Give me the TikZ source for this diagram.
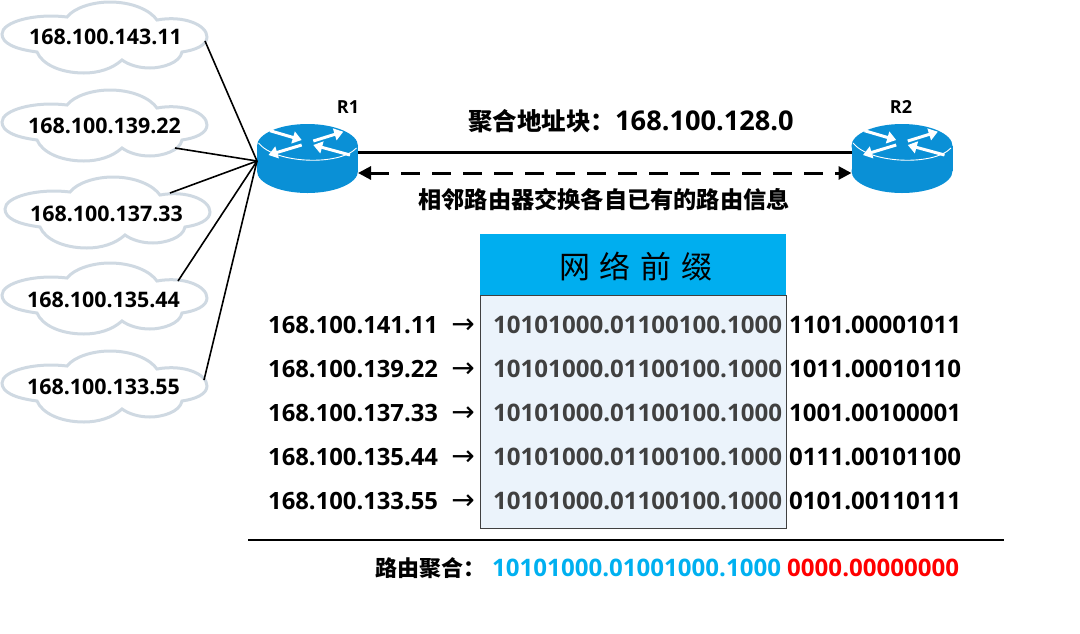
\documentclass[tikz,border=0pt]{standalone}
\usepackage{fontspec}
\usetikzlibrary{arrows.meta}
\setmainfont{Open Sans}
\newfontfamily\cjk{Noto Sans CJK SC}
\definecolor{cloudline}{HTML}{CFD9E2}
\definecolor{routerblue}{HTML}{0A90D6}
\definecolor{headblue}{HTML}{00AEEF}
\definecolor{tablefill}{HTML}{EBF3FB}
\definecolor{tableline}{HTML}{404040}
\definecolor{sumblue}{HTML}{00B0F0}
\tikzset{
  ipcloud/.style={font=\fontsize{21.4}{24}\selectfont\bfseries,inner sep=0pt},
  rowtext/.style={font=\fontsize{24.1}{28}\selectfont\bfseries,inner sep=0pt,anchor=base west},
  iptext/.style={font=\fontsize{23.8}{28}\selectfont\bfseries,inner sep=0pt,anchor=base west},
  rlabel/.style={font=\fontsize{18}{20}\selectfont\bfseries,inner sep=0pt},
  wire/.style={line width=1.6pt,black},
  rarrow/.style={line width=3pt,white,-{Triangle[width=12pt,length=9pt]}},
  pics/netcloud/.style={code={
    \draw[cloudline,line width=3pt,fill=white]
      (-67,15) .. controls (-90,12) and (-102,6) .. (-102,-3)
      .. controls (-102,-15) and (-70,-24) .. (-37,-20)
      .. controls (-30,-29) and (-12,-35) .. (6,-35)
      .. controls (28,-35) and (46,-27) .. (53,-17)
      .. controls (80,-22) and (103,-12) .. (103,0)
      .. controls (103,8) and (92,13) .. (78,15)
      .. controls (76,26) and (58,31) .. (46,31)
      .. controls (35,31) and (25,28) .. (18,23)
      .. controls (8,32) and (-6,36) .. (-20,36)
      .. controls (-44,36) and (-62,27) .. (-67,15) -- cycle;
  }},
  pics/router/.style={code={
    \fill[routerblue] (-50.5,0) rectangle (50.5,25);
    \fill[routerblue] (0,0) ellipse [x radius=50.5,y radius=22];
    \fill[routerblue] (0,25) ellipse [x radius=50.5,y radius=22];
    \draw[white,line width=.9pt] (-49,-3) .. controls (-32,18) and (32,20) .. (49,2);
    \draw[rarrow] (-37.5,-15.3) -- (-5.8,-6);
    \draw[rarrow] (-5.8,-1) -- (-39,9);
    \draw[rarrow] (5.8,-5) -- (35.8,-14.3);
    \draw[rarrow] (42.5,9) -- (5.8,-1);
    \coordinate (-west) at (-50.5,15);
    \coordinate (-solidw) at (-50.5,6);
    \coordinate (-solide) at (50.5,6);
    \coordinate (-dashw) at (-50.5,27);
    \coordinate (-dashe) at (50.5,27);
  }}
}
\begin{document}
\begin{tikzpicture}[x=1pt,y=-1pt]
\useasboundingbox (0,0) rectangle (1080,633);
% clouds
\pic at (104,37) {netcloud};
\pic at (104,125) {netcloud};
\pic at (107,212) {netcloud};
\pic at (104,298) {netcloud};
\pic at (104,386) {netcloud};
\node[ipcloud] (c1) at (105.5,37) {168.100.143.11};
\node[ipcloud] (c2) at (104.5,126) {168.100.139.22};
\node[ipcloud] (c3) at (106.5,214) {168.100.137.33};
\node[ipcloud] (c4) at (103.5,300) {168.100.135.44};
\node[ipcloud] (c5) at (103.5,387) {168.100.133.55};
% routers
\pic (r1) at (307.5,146) {router};
\pic (r2) at (902,146) {router};
\node[rlabel] (r1lab) at (348,107) {R1};
\node[rlabel] (r2lab) at (901,107) {R2};
% cloud links
\coordinate (e1) at (205,41);
\coordinate (e2) at (175,148);
\coordinate (e3) at (170,193);
\coordinate (e4) at (178,281);
\coordinate (e5) at (204,380);
\foreach \e in {e1,e2,e3,e4,e5} \draw[wire] (\e) -- (r1-west);
% backbone
\draw[line width=3pt] (r1-solide) -- (r2-solidw);
\draw[line width=3pt,dash pattern=on 19pt off 12pt,{Triangle[width=13pt,length=13pt]}-{Triangle[width=13pt,length=13pt]}] (r1-dashe) -- (r2-dashw);
\node[inner sep=0pt,anchor=base west] (title) at (468,130) {\fontsize{24.5}{28}\selectfont\bfseries{\cjk\bfseries 聚合地址块：}\fontsize{27.2}{28}\selectfont 168.100.128.0};
\node[inner sep=0pt] (sub) at (604,200) {\cjk\bfseries\fontsize{23.2}{28}\selectfont 相邻路由器交换各自已有的路由信息};
% table
\node[fill=headblue,minimum width=306pt,minimum height=61pt,inner sep=0pt,anchor=north west] (head) at (480,234) {};
\node[inner sep=0pt] (headtxt) at (636,267) {\cjk\fontsize{31}{34}\selectfont 网\hspace{10pt}络\hspace{10pt}前\hspace{10pt}缀};
\node[fill=tablefill,draw=tableline,line width=1pt,minimum width=306pt,minimum height=233pt,inner sep=0pt,anchor=north west] (body) at (480,295) {};
% rows
\node[iptext] (l1) at (268,333) {168.100.141.11};
\node[iptext] (l2) at (268,377) {168.100.139.22};
\node[iptext] (l3) at (268,421) {168.100.137.33};
\node[iptext] (l4) at (268,465) {168.100.135.44};
\node[iptext] (l5) at (268,509) {168.100.133.55};
\foreach \y/\n in {333/1,377/2,421/3,465/4,509/5}{
  \node[inner sep=0pt,anchor=base] (a\n) at (463,\y) {\font\arrowf="DejaVu Sans" at 28pt \arrowf →};
  \node[rowtext,text=tableline] (p\n) at (493,\y) {10101000.01100100.1000};
}
\node[rowtext] (s1) at (789,333) {1101.00001011};
\node[rowtext] (s2) at (789,377) {1011.00010110};
\node[rowtext] (s3) at (789,421) {1001.00100001};
\node[rowtext] (s4) at (789,465) {0111.00101100};
\node[rowtext] (s5) at (789,509) {0101.00110111};
% rule and sum
\coordinate (ruleL) at (248,540);
\coordinate (ruleR) at (1004,540);
\draw[line width=1.5pt] (ruleL) -- (ruleR);
\node[inner sep=0pt,anchor=base west] (sumlab) at (375,576) {\cjk\bfseries\fontsize{22}{26}\selectfont 路由聚合：};
\node[rowtext,text=sumblue] (sumnet) at (492,576) {10101000.01001000.1000};
\node[rowtext,text=red] (sumhost) at (787,576) {0000.00000000};
\end{tikzpicture}
\end{document}
